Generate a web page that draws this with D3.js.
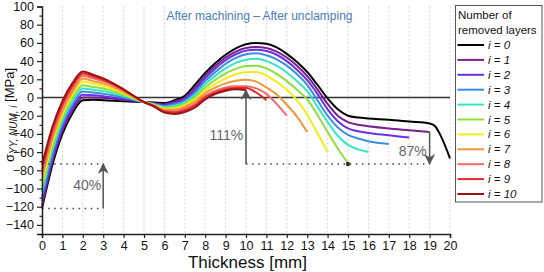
<!DOCTYPE html>
<html>
<head>
<meta charset="utf-8">
<script src="https://cdn.jsdelivr.net/npm/d3@7"></script>
<style>
body { margin: 0; background: #fff; }
text { font-family: "Liberation Sans", Arial, sans-serif; }
</style>
</head>
<body>
<div class="chart"></div>
<script>
// thickness grid [mm] shared by all series, each series stops at 20 - i
let thickness = [0,0.5,1,1.5,2,2.5,3,4,5,5.5,6,6.5,7,7.5,8,8.5,9,9.5,10,10.5,11,11.5,12,12.5,13,13.5,14,14.5,15,15.5,16,17,18,19,19.25,19.5,20];

let s0 = [-122,-75,-40,-17,-3,-2.5,-3,-4,-5,-5.5,-6,-3,2,14,27,38,47,54,58.5,60,59,55,48,39,28,14,-1,-13,-20,-22,-23,-24.5,-26.5,-28.5,-31,-40,-67];
let s1 = [-119,-71,-36.5,-14,0,0,-0.5,-2.5,-5,-6.4,-7.5,-4.5,-0.5,10.5,24,35,44,50.5,54.5,55.5,54.5,50.5,44,35,23.5,9,-7,-20,-27,-30,-31.5,-34,-36,-38];
let s2 = [-114,-67,-33,-10.5,3,2.5,1.5,-1.5,-5,-6.8,-8.5,-6,-2,8,21,32,41,47.5,51.5,52.5,51,47,40,30.5,19,4,-13,-26,-34,-37,-39,-41.5,-44];
let s3 = [-109,-63,-29,-7,6.5,5.5,4,0,-5,-7.2,-9.5,-7.5,-3.5,5.5,18,28,37,43.5,47.5,48.5,46.5,42,35,25.5,14,-3,-20,-33,-41,-45,-48,-51];
let s4 = [-104,-58,-25.5,-4,10,8.5,7,1.5,-5,-7.6,-10.5,-9,-5,3,14.5,24,32,38,41.5,42.5,40,35,27.5,18,7,-10,-27,-42,-52,-57,-60];
let s5 = [-99,-54,-22,-0.5,13.5,11.5,10,3,-5,-8,-11.5,-10.5,-7,0.5,11,19.5,26.5,31.5,34.5,35,32,26,18,8.5,-2,-19,-38,-56,-72];
let s6 = [-94,-50,-18.5,3,17.5,15,13,4.5,-5,-8.4,-12.5,-12,-8.5,-2,8,15,21,25.5,28,28,24,17,8.5,-3,-19,-39,-60];
let s7 = [-89,-46,-15,6,21,18,15.5,6,-5,-8.8,-13.5,-13.5,-10,-4.5,5,11,15.5,18.5,19.5,17.5,11,3.5,-8,-21,-38];
let s8 = [-84,-42,-11,9.5,24,21,18,7.5,-5,-9.2,-14.5,-15,-12,-7,2,7.5,11,12.5,12.5,10,4,-7,-20];
let s9 = [-79,-37,-7.5,13,26.5,23,19.5,8.5,-5,-9.6,-15.5,-16.5,-14,-9,0,5.5,9,10.5,10.5,5.5,-3];
let s10 = [-74,-33,-4,16,28.5,25,21,9,-5,-10,-16.5,-18,-16,-11,-2,4,7.5,9,8];

let seriesValues = [s0,s1,s2,s3,s4,s5,s6,s7,s8,s9,s10];
let seriesNames = ["i = 0","i = 1","i = 2","i = 3","i = 4","i = 5","i = 6","i = 7","i = 8","i = 9","i = 10"];
let seriesColors = ["#000000","#7a1f8e","#6a30e6","#3a8ee6","#33e6c8","#8fdf3a","#f2ee14","#ee9a34","#f56b6b","#e42a2a","#9c1212"];

let xTicks = d3.range(0, 21, 1);
let yTicks = [-140,-120,-100,-80,-60,-40,-20,0,20,40,60,80,100];
let yMinor = [-150,-130,-110,-90,-70,-50,-30,-10,10,30,50,70,90];

let width = 544, height = 272;
let margin = { top: 6.5, right: 94, bottom: 38, left: 42 };

let svg = d3.select(".chart").append("svg")
    .attr("width", width)
    .attr("height", height);

let defs = svg.append("defs");
defs.append("marker")
    .attr("id", "head")
    .attr("viewBox", "0 0 10 10")
    .attr("refX", 9).attr("refY", 5)
    .attr("markerWidth", 11).attr("markerHeight", 11)
    .attr("markerUnits", "userSpaceOnUse")
    .attr("orient", "auto")
    .append("path")
    .attr("d", "M0,0 L10,5 L0,10 L3,5 Z")
    .attr("fill", "#555");

let x = d3.scaleLinear().domain([0, 20]).range([margin.left, width - margin.right]);
let y = d3.scaleLinear().domain([-150, 100]).range([height - margin.bottom, margin.top]);

// vertical dotted grid
svg.append("g")
    .selectAll("line")
    .data(xTicks.filter(d => d > 0))
    .join("line")
    .attr("x1", d => x(d)).attr("x2", d => x(d))
    .attr("y1", y(100)).attr("y2", y(-150))
    .attr("stroke", "#c8c8c8")
    .attr("stroke-width", 0.8)
    .attr("stroke-dasharray", "2,2");

// title
svg.append("text")
    .attr("x", 259.5).attr("y", 20)
    .attr("text-anchor", "middle")
    .attr("font-size", 12)
    .attr("fill", "#4a7cbc")
    .text("After machining \u2013 After unclamping");

// zero line
svg.append("line")
    .attr("x1", x(0)).attr("x2", x(20))
    .attr("y1", y(0)).attr("y2", y(0))
    .attr("stroke", "#333")
    .attr("stroke-width", 1.5);

let line = d3.line()
    .x((d, i) => x(thickness[i]))
    .y(d => y(d))
    .curve(d3.curveMonotoneX);

svg.append("g")
    .selectAll("path")
    .data(seriesValues)
    .join("path")
    .attr("d", line)
    .attr("fill", "none")
    .attr("stroke", (d, i) => seriesColors[i])
    .attr("stroke-width", 2)
    .attr("stroke-linejoin", "round");

// annotations
let dotted = [
    [0, -122, 3, -122],
    [0, -73, 3, -73],
    [10, -73, 19, -73]
];
svg.append("g")
    .selectAll("line")
    .data(dotted)
    .join("line")
    .attr("x1", d => x(d[0])).attr("y1", d => y(d[1]))
    .attr("x2", d => x(d[2])).attr("y2", d => y(d[3]))
    .attr("stroke", "#444")
    .attr("stroke-width", 1.6)
    .attr("stroke-dasharray", "1.5,4.6");

let arrows = [
    [3, -122, 3, -73],
    [10, -73, 10, 8],
    [19, -38, 19, -73]
];
svg.append("g")
    .selectAll("line")
    .data(arrows)
    .join("line")
    .attr("x1", d => x(d[0])).attr("y1", d => y(d[1]))
    .attr("x2", d => x(d[2])).attr("y2", d => y(d[3]))
    .attr("stroke", "#555")
    .attr("stroke-width", 1.5)
    .attr("marker-end", "url(#head)");

svg.append("circle")
    .attr("cx", x(15)).attr("cy", y(-73))
    .attr("r", 2.2)
    .attr("fill", "#333");

let notes = [
    { t: "40%", x: 2.9, y: -96 },
    { t: "111%", x: 9.86, y: -41 },
    { t: "87%", x: 18.86, y: -59 }
];
svg.append("g")
    .selectAll("text")
    .data(notes)
    .join("text")
    .attr("x", d => x(d.x)).attr("y", d => y(d.y) + 5)
    .attr("text-anchor", "end")
    .attr("font-size", 14)
    .attr("fill", "#666")
    .text(d => d.t);

// axes
let xAxis = svg.append("g")
    .attr("transform", "translate(0," + y(-150) + ")")
    .call(d3.axisBottom(x).tickValues(xTicks).tickSize(4).tickFormat(d3.format("d")));
let yAxis = svg.append("g")
    .attr("transform", "translate(" + x(0) + ",0)")
    .call(d3.axisLeft(y).tickValues(yTicks).tickSize(5).tickFormat(d3.format("d")));
svg.append("g")
    .attr("transform", "translate(" + x(0) + ",0)")
    .call(d3.axisLeft(y).tickValues(yMinor).tickSize(2.5).tickFormat(""))
    .select(".domain").remove();

[xAxis, yAxis].forEach(a => {
    a.select(".domain").attr("stroke", "#222").attr("stroke-width", 1.5);
    a.selectAll(".tick line").attr("stroke", "#222").attr("stroke-width", 1.2);
    a.selectAll(".tick text")
        .attr("font-family", "'Liberation Sans', Arial, sans-serif")
        .attr("font-size", 12.5)
        .attr("fill", "#111");
});

svg.append("text")
    .attr("x", 247.5).attr("y", 267.5)
    .attr("text-anchor", "middle")
    .attr("font-size", 17)
    .attr("fill", "#111")
    .text("Thickness [mm]");

let ylab = svg.append("text")
    .attr("transform", "translate(14,115) rotate(-90)")
    .attr("text-anchor", "middle")
    .attr("font-size", 13)
    .attr("fill", "#111");
ylab.append("tspan").text("\u03c3");
ylab.append("tspan").attr("font-size", 10).attr("font-style", "italic").attr("dy", 3).text("YY, NUM, i");
ylab.append("tspan").attr("dy", -3).text(" [MPa]");

// legend
let legend = svg.append("g");
legend.append("rect")
    .attr("x", 455.5).attr("y", 5.5)
    .attr("width", 86.5).attr("height", 196.5)
    .attr("fill", "#fff")
    .attr("stroke", "#555")
    .attr("stroke-width", 1);
legend.append("text").attr("x", 458).attr("y", 19).attr("font-size", 11.5).attr("fill", "#111").text("Number of");
legend.append("text").attr("x", 458).attr("y", 33.5).attr("font-size", 11.5).attr("fill", "#111").text("removed layers");

let items = legend.selectAll(".item")
    .data(seriesNames)
    .join("g")
    .attr("class", "item")
    .attr("transform", (d, i) => "translate(0," + (45 + i * 14.9) + ")");
items.append("line")
    .attr("x1", 457.5).attr("x2", 484)
    .attr("stroke", (d, i) => seriesColors[i])
    .attr("stroke-width", 2);
items.append("text")
    .attr("x", 488).attr("y", 4)
    .attr("font-size", 11.5)
    .attr("font-style", "italic")
    .attr("fill", "#111")
    .text(d => d);
</script>
</body>
</html>
